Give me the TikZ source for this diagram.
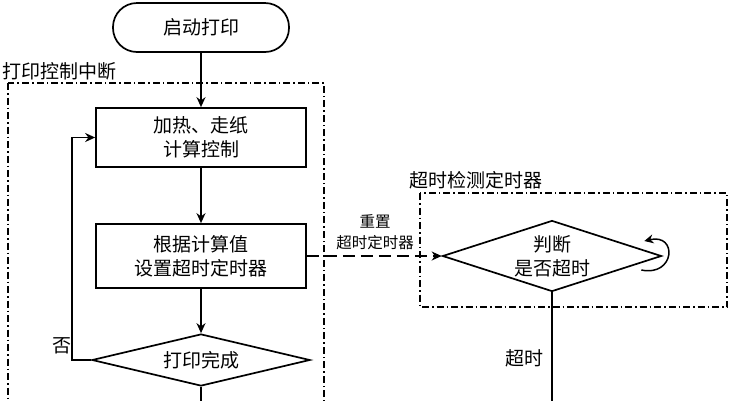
\documentclass[tikz,border=0pt]{standalone}
\usepackage{fontspec}
\setmainfont{Noto Sans CJK SC}
\usetikzlibrary{shapes.geometric,arrows.meta}
\begin{document}
\begin{tikzpicture}[x=1pt,y=-1pt,
  every node/.style={inner sep=0pt},
  mainfont/.style={font=\fontsize{19}{24}\selectfont},
  termbox/.style={draw,line width=1.7pt,rectangle,rounded corners=24pt,minimum width=176pt,minimum height=49pt,mainfont},
  procbox/.style={draw,line width=1.7pt,rectangle,minimum width=210pt,align=center,mainfont},
  decbox/.style={draw,line width=1.7pt,diamond,align=center,mainfont},
  arr/.style={line width=1.7pt,-{Stealth[length=10pt,width=9pt]}},
  plain/.style={line width=1.7pt},
  groupbox/.style={line width=1.2pt,dash pattern=on 7pt off 3pt on 1.5pt off 3pt},
  grouplabel/.style={anchor=west,mainfont},
  smalllabel/.style={align=center,font=\fontsize{15.5}{21}\selectfont}
]
\useasboundingbox (0,0) rectangle (730,400);
\fill[white] (0,0) rectangle (730,400);

% group boxes
\draw[groupbox] (8,83) rectangle (324,430);
\node[grouplabel] (lab1) at (2,71) {打印控制中断};
\draw[groupbox] (420,193) rectangle (727,307);
\node[grouplabel] (lab2) at (409,180) {超时检测定时器};

% nodes
\node[termbox] (start) at (201,27.5) {启动打印};
\node[procbox,minimum height=59pt] (box1) at (201,137.5) {加热、走纸\\计算控制};
\node[procbox,minimum height=64pt] (box2) at (201,256) {根据计算值\\设置超时定时器};
\node[decbox,shape aspect=4.2,minimum width=218pt,minimum height=52pt] (dec1) at (201,360) {打印完成};
\node[decbox,shape aspect=3.08,minimum width=219pt,minimum height=71pt] (dec2) at (552,256) {判断\\是否超时};

\coordinate (end1) at (201,430);
\coordinate (end2) at (552,430);

% connectors
\draw[arr] (start) -- (box1);
\draw[arr] (box1) -- (box2);
\draw[arr] (box2) -- (dec1);
\draw[plain] (dec1.south) -- (end1);
\draw[arr] (dec1.west) -- ++(-19,0) |- (box1.west);
\node[mainfont] (no) at (62,346) {否};

\draw[arr,dash pattern=on 12pt off 6pt] (box2.east) -- (dec2.west);
\node[smalllabel] (reset) at (375,232) {重置\\超时定时器};

\draw[plain] (dec2.south) -- (end2);
\node[mainfont] (tout) at (524,358) {超时};

\coordinate (loopa) at ([shift={(-21,14)}]dec2.east);
\coordinate (loopb) at ([shift={(-18,-15)}]dec2.east);
\draw[line width=1.5pt,-{Stealth[length=9pt,width=9pt]}] (loopa) .. controls (675,277) and (678,233) .. (loopb);
\end{tikzpicture}
\end{document}
